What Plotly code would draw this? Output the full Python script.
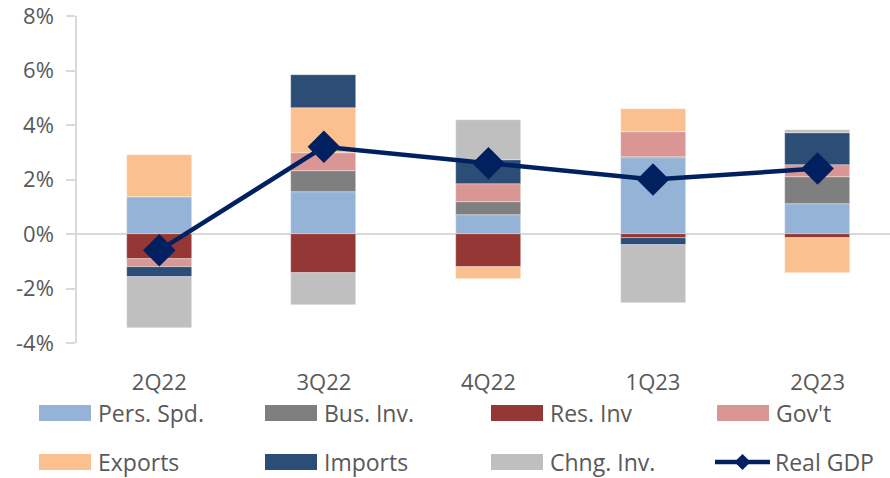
import plotly.graph_objects as go

categories = ["2Q22", "3Q22", "4Q22", "1Q23", "2Q23"]
pers_spd = [1.37, 1.53, 0.68, 2.80, 1.10]
bus_inv = [0.00, 0.79, 0.51, 0.04, 1.00]
res_inv = [-0.92, -1.42, -1.20, -0.15, -0.16]
govt = [-0.30, 0.65, 0.66, 0.89, 0.45]
exports = [1.53, 1.65, -0.45, 0.85, -1.28]
imports = [-0.34, 1.21, 0.85, -0.25, 1.16]
chng_inv = [-1.89, -1.18, 1.47, -2.13, 0.12]
real_gdp = [-0.6, 3.2, 2.6, 2.0, 2.4]
y_ticks = [-4, -2, 0, 2, 4, 6, 8]
y_tick_labels = ["-4%", "-2%", "0%", "2%", "4%", "6%", "8%"]

series = [
    ("Pers. Spd.", pers_spd, "#95B3D7"),
    ("Bus. Inv.", bus_inv, "#7F7F7F"),
    ("Res. Inv", res_inv, "#953735"),
    ("Gov't", govt, "#D99694"),
    ("Exports", exports, "#FAC090"),
    ("Imports", imports, "#2C4D75"),
    ("Chng. Inv.", chng_inv, "#BFBFBF"),
]
gdp_color = "#002060"
text_color = "#595959"
FONT = "Source Sans Pro, Open Sans, sans-serif"

W, H = 890, 478
ML, MR, MT, MB = 77, 0, 16, 135
PW, PH = W - ML - MR, H - MT - MB

fig = go.Figure()
xs = list(range(len(categories)))
for name, vals, col in series:
    fig.add_trace(go.Bar(x=xs, y=vals, name=name,
                         marker=dict(color=col, line=dict(color="rgba(255,255,255,0.6)", width=0.6)),
                         width=0.395, showlegend=False))
fig.add_trace(go.Scatter(x=xs, y=real_gdp, name="Real GDP", mode="lines+markers",
                         line=dict(color=gdp_color, width=4.5),
                         marker=dict(symbol="diamond", size=25, color=gdp_color),
                         showlegend=False))

def px_x(px):
    return (px - ML) / PW

def px_y(py):
    return (H - MB - py) / PH

shapes = []
annotations = []
legend_items = [(n, c) for n, _, c in series] + [("Real GDP", gdp_color)]
col_x = [39, 265, 491, 717]
row_y = [413, 462]
for i, (name, col) in enumerate(legend_items):
    cx = col_x[i % 4]
    cy = row_y[i // 4]
    if name == "Real GDP":
        shapes.append(dict(type="line", xref="paper", yref="paper",
                           x0=px_x(cx - 2), x1=px_x(cx + 53), y0=px_y(cy), y1=px_y(cy),
                           line=dict(color=gdp_color, width=4.5)))
        d = 8
        mx = cx + 25.5
        path = "M {} {} L {} {} L {} {} L {} {} Z".format(
            px_x(mx - d), px_y(cy), px_x(mx), px_y(cy - d), px_x(mx + d), px_y(cy), px_x(mx), px_y(cy + d))
        shapes.append(dict(type="path", xref="paper", yref="paper", path=path,
                           fillcolor=gdp_color, line=dict(color=gdp_color, width=0)))
        tx = cx + 56
    else:
        shapes.append(dict(type="rect", xref="paper", yref="paper",
                           x0=px_x(cx), x1=px_x(cx + 52), y0=px_y(cy - 8), y1=px_y(cy + 8),
                           fillcolor=col, line=dict(width=0)))
        tx = cx + 57
    annotations.append(dict(text=name, xref="paper", yref="paper", x=px_x(tx), y=px_y(cy),
                            xanchor="left", yanchor="middle", showarrow=False,
                            font=dict(family=FONT, size=23, color=text_color)))

fig.update_layout(
    width=W, height=H,
    margin=dict(l=ML, r=MR, t=MT, b=MB, pad=0),
    paper_bgcolor="white", plot_bgcolor="white",
    barmode="relative", bargap=0,
    font=dict(family=FONT, size=22, color=text_color),
    shapes=shapes, annotations=annotations,
    showlegend=False,
)
fig.update_xaxes(range=[-0.5, 4.44], tickvals=xs, ticktext=categories, showgrid=False,
                 showline=False, zeroline=False, ticks="", ticklabelstandoff=24,
                 tickfont=dict(family=FONT, size=22, color=text_color))
fig.update_yaxes(range=[-4, 8], tickvals=y_ticks, ticktext=y_tick_labels,
                 showgrid=False, showline=True, linecolor="#D9D9D9", linewidth=1.5,
                 ticks="outside", ticklen=9, tickcolor="#D9D9D9", tickwidth=1.5,
                 zeroline=True, zerolinecolor="#D9D9D9", zerolinewidth=1.5,
                 ticklabelstandoff=8, ticklabeloverflow="allow",
                 tickfont=dict(family=FONT, size=22, color=text_color))

fig.write_html("out.html")
